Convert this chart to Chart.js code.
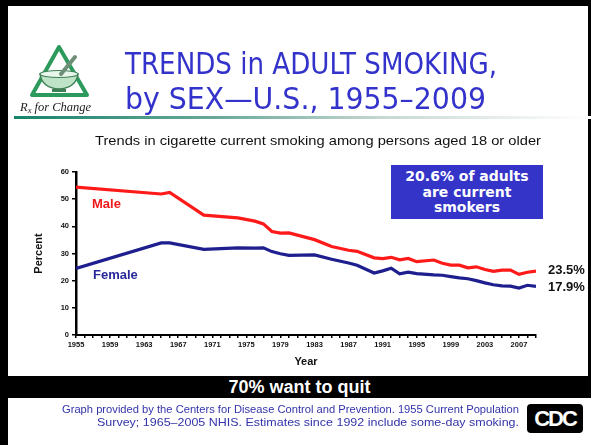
<!DOCTYPE html>
<html>
<head>
<meta charset="utf-8">
<script src="https://cdn.jsdelivr.net/npm/chart.js@4/dist/chart.umd.min.js"></script>
<style>
  html, body { margin:0; padding:0; background:#fff; }
  #slide { position:relative; width:591px; height:445px; overflow:hidden; background:#fff;
           font-family:"Liberation Sans", Arial, sans-serif; }
  #chart { position:absolute; left:0; top:0; }
  .abs { position:absolute; white-space:nowrap; }
  .fit { transform-origin:0 50%; }
  .frameTop { left:0; top:0; width:591px; height:6px; background:#000; }
  .frameLeft { left:0; top:0; width:8px; height:445px; background:#000; }
  .frameRight { left:588px; top:0; width:3px; height:376px; background:#000; }
  .title { left:125px; color:#3333cc; font-family:"DejaVu Sans Condensed", "DejaVu Sans", sans-serif;
           font-size:31px; line-height:34px; }
  .rule { left:14px; top:116px; width:577px; height:3px;
          background:linear-gradient(to right, #16846a 0%, #6aa89a 35%, #c9d9d4 65%, #ffffff 100%); }
  .subtitle { left:95px; top:133px; font-size:13.5px; color:#111; }
  .series { font-weight:bold; font-size:13px; }
  .callout { left:391px; top:165px; width:152px; height:54px; background:#3434c8; color:#fff;
             font-family:"DejaVu Sans", Verdana, sans-serif; font-weight:bold; font-size:14px;
             line-height:15.5px; text-align:center; padding-top:4px; box-sizing:border-box; }
  .quit { left:8px; top:376px; width:583px; height:22px; background:#000; color:#fff; font-weight:bold;
          font-size:18px; line-height:22px; text-align:center; }
  .source { color:#3333aa; font-size:11px; line-height:13px; }
  .cdc { left:527px; top:404px; width:56px; height:29px; background:#000; border-radius:4px; color:#fff;
         font-weight:bold; font-size:22px; line-height:29px; text-align:center; letter-spacing:-2px; }
</style>
</head>
<body>
<div id="slide">
  <canvas id="chart" width="591" height="445"></canvas>

  <div class="abs frameTop"></div>
  <div class="abs frameLeft"></div>
  <div class="abs frameRight"></div>

  <!-- Rx for Change logo -->
  <svg class="abs" style="left:16px;top:42px" width="84" height="74" viewBox="0 0 84 74">
    <polygon points="43,5 16,53 71,53" fill="#fff" stroke="#2c9a5c" stroke-width="4" stroke-linejoin="round"/>
    <path d="M24,32 Q43,27 62,32 Q60,46 43,47 Q26,46 24,32 Z" fill="#bfe3c6" stroke="#3f7f55" stroke-width="1.5"/>
    <ellipse cx="43" cy="32" rx="19" ry="3.5" fill="#e8f5ea" stroke="#3f7f55" stroke-width="1.2"/>
    <line x1="45" y1="32" x2="59" y2="15" stroke="#6d8f78" stroke-width="4" stroke-linecap="round"/>
    <rect x="36" y="47" width="14" height="3" fill="#3f7f55"/>
    <text x="4" y="69" font-family="Liberation Serif, serif" font-style="italic" font-size="12.5" fill="#222">R<tspan font-size="8.5" dy="2">x</tspan><tspan dy="-2"> for Change</tspan></text>
  </svg>

  <div class="abs title fit" style="top:46px" data-w="372">TRENDS in ADULT SMOKING,</div>
  <div class="abs title fit" style="top:81px" data-w="361">by SEX—U.S., 1955–2009</div>
  <div class="abs rule"></div>

  <div class="abs subtitle fit" data-w="446">Trends in cigarette current smoking among persons aged 18 or older</div>

  <div class="abs series" style="left:92px;top:196px;color:#f01818">Male</div>
  <div class="abs series" style="left:93px;top:267px;color:#28289a">Female</div>

  <div class="abs callout">20.6% of adults<br>are current<br>smokers</div>

  <div class="abs quit">70% want to quit</div>
  <div class="abs source fit" style="left:62px;top:403px" data-w="457">Graph provided by the Centers for Disease Control and Prevention. 1955 Current Population</div>
  <div class="abs source fit" style="left:97px;top:416px" data-w="422">Survey; 1965–2005 NHIS. Estimates since 1992 include some-day smoking.</div>
  <div class="abs cdc">CDC</div>
</div>

<script>
// survey years with a reading; 1955 is joined straight to 1965
const years = [1955, 1965, 1966, 1970, 1974, 1976, 1977, 1978, 1979, 1980, 1983, 1985, 1987, 1988,
               1990, 1991, 1992, 1993, 1994, 1995, 1997, 1998, 1999, 2000, 2001, 2002, 2003, 2004,
               2005, 2006, 2007, 2008, 2009];
const male   = [54.4, 51.9, 52.5, 44.1, 43.1, 41.9, 40.9, 38.1, 37.5, 37.6, 35.1, 32.6, 31.2, 30.8,
                28.4, 28.1, 28.6, 27.7, 28.2, 27.0, 27.6, 26.4, 25.7, 25.7, 24.7, 25.1, 24.1, 23.4,
                23.9, 23.9, 22.3, 23.1, 23.5];
const female = [24.5, 33.9, 33.9, 31.5, 32.1, 32.0, 32.1, 30.7, 29.9, 29.3, 29.5, 27.9, 26.5, 25.7,
                22.8, 23.6, 24.6, 22.5, 23.1, 22.6, 22.1, 22.0, 21.5, 21.0, 20.7, 20.0, 19.2, 18.5,
                18.1, 18.0, 17.3, 18.3, 17.9];
const yearLabels = [1955, 1959, 1963, 1967, 1971, 1975, 1979, 1983, 1987, 1991, 1995, 1999, 2003, 2007];
const pctLabels  = [0, 10, 20, 30, 40, 50, 60];

const RED = "#ff1a1a", NAVY = "#1e1e8e";

// squeeze/stretch a text line to the width it takes on the slide
document.querySelectorAll(".fit").forEach(el => {
  const w = el.getBoundingClientRect().width;
  el.style.transform = `scaleX(${el.dataset.w / w})`;
});

// "23.5%" / "17.9%" beside the last point of each line
const endLabels = {
  id: "endLabels",
  afterDatasetsDraw(chart) {
    const { ctx } = chart;
    const x = chart.scales.x, y = chart.scales.y;
    ctx.save();
    ctx.font = "bold 13px 'Liberation Sans', Arial, sans-serif";
    ctx.fillStyle = "#111";
    ctx.textBaseline = "middle";
    chart.data.datasets.forEach(ds => {
      const last = ds.data[ds.data.length - 1];
      ctx.fillText(last.y.toFixed(1) + "%", x.getPixelForValue(last.x) + 12, y.getPixelForValue(last.y) + ds.labelShift);
    });
    ctx.restore();
  }
};

const tickFont = { family:"'Liberation Sans', Arial, sans-serif", size:7.5, weight:"bold" };
const titleFont = { family:"'Liberation Sans', Arial, sans-serif", size:11, weight:"bold" };

new Chart(document.getElementById("chart"), {
  type: "line",
  data: {
    datasets: [
      { label:"Male", data:years.map((x, i) => ({ x, y:male[i] })), borderColor:RED,
        borderWidth:3.2, pointRadius:0, tension:0, labelShift:-1 },
      { label:"Female", data:years.map((x, i) => ({ x, y:female[i] })), borderColor:NAVY,
        borderWidth:3.2, pointRadius:0, tension:0, labelShift:1 },
    ]
  },
  options: {
    responsive:false, animation:false,
    layout:{ padding:{ left:32, right:55, top:172, bottom:76 } },
    plugins:{ legend:{ display:false }, tooltip:{ enabled:false } },
    scales:{
      x:{ type:"linear", min:1955, max:2009,
          afterFit:s => { s.height = 34; },
          border:{ color:"#000", width:2 },
          grid:{ drawOnChartArea:false, color:"#000", lineWidth:1.5, tickLength:3 },
          ticks:{ stepSize:1, autoSkip:false, maxRotation:0, padding:2, color:"#111", font:tickFont,
                  callback:v => yearLabels.includes(v) ? String(v) : "" },
          title:{ display:true, text:"Year", color:"#111", font:titleFont, padding:0 } },
      y:{ min:0, max:60,
          afterFit:s => { s.width = 44; },
          border:{ color:"#000", width:2.5 },
          grid:{ drawOnChartArea:false, color:"#000", lineWidth:1.5, tickLength:4 },
          afterBuildTicks:s => { s.ticks = pctLabels.map(value => ({ value })); },
          ticks:{ padding:3, color:"#111", font:tickFont },
          title:{ display:true, text:"Percent", color:"#111", font:titleFont, padding:0 } }
    }
  },
  plugins:[endLabels]
});
</script>
</body>
</html>
